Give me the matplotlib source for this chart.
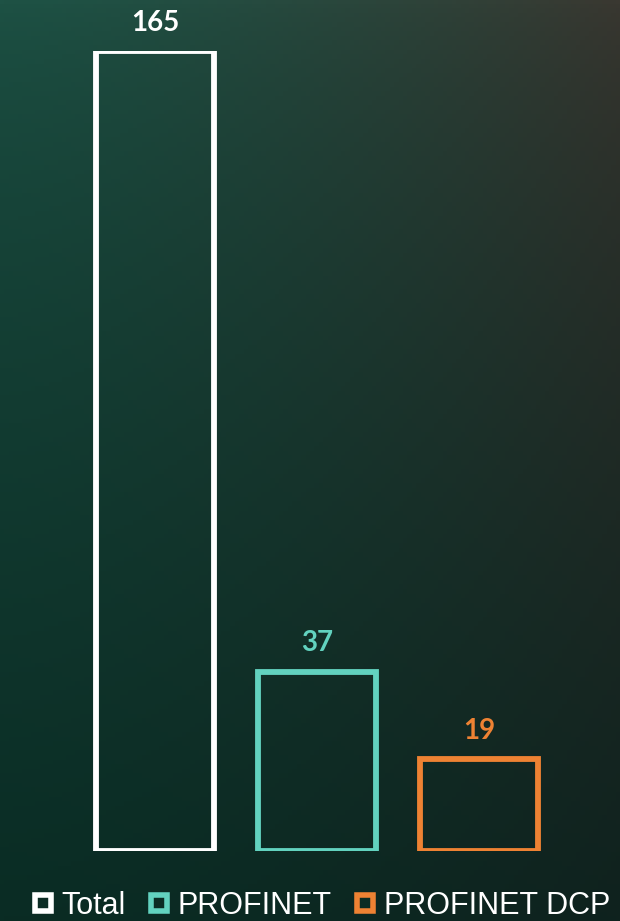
import numpy as np
import matplotlib.pyplot as plt
from matplotlib.lines import Line2D

categories = ["Total", "PROFINET", "PROFINET DCP"]
values = [165, 37, 19]
colors = ["#ffffff", "#62d2bf", "#ee8233"]

fig = plt.figure(figsize=(6.2, 9.21), dpi=100)

# background gradient (corners: top-left, top-right, bottom-left, bottom-right)
tl = np.array([0x1e, 0x52, 0x45]) / 255
tr = np.array([0x3a, 0x38, 0x31]) / 255
bl = np.array([0x0a, 0x2c, 0x24]) / 255
br = np.array([0x0f, 0x22, 0x1e]) / 255
ny, nx = 200, 140
yy, xx = np.mgrid[0:1:ny * 1j, 0:1:nx * 1j]
xx = xx[..., None] ** 1.4
yy = yy[..., None] ** 0.65
img = (tl * (1 - xx) * (1 - yy) + tr * xx * (1 - yy)
       + bl * (1 - xx) * yy + br * xx * yy)
bg = fig.add_axes([0, 0, 1, 1])
bg.imshow(img, aspect="auto", extent=[0, 1, 0, 1], zorder=0)
bg.axis("off")

ax = fig.add_axes([0, 70 / 921, 1, 800 / 921])
ax.patch.set_alpha(0)
x = np.arange(len(values))
ax.bar(x, values, width=0.725, facecolor="none", edgecolor=colors, linewidth=4.2)
for xi, v, c in zip(x, values, colors):
    ax.annotate(str(v), (xi, v), xytext=(0, 11), textcoords="offset points",
                ha="center", va="bottom", color=c, fontsize=20,
                fontfamily="Lato", fontweight="bold")
ax.set_xlim(-155 / 162, 465 / 162)
ax.set_ylim(0, 165)
ax.axis("off")

handles = [Line2D([], [], marker="s", linestyle="none", markersize=11.5,
                  markeredgewidth=4, markeredgecolor=c, markerfacecolor="#0b2c24")
           for c in colors]
fig.legend(handles, categories, loc="lower center", bbox_to_anchor=(0.518, -0.013),
           ncol=3, frameon=False, handlelength=0.7,
           handletextpad=0.25, columnspacing=0.75, borderaxespad=0,
           prop={"family": "Liberation Sans", "size": 22},
           labelcolor="white")

fig.savefig("out.png", dpi=100)
